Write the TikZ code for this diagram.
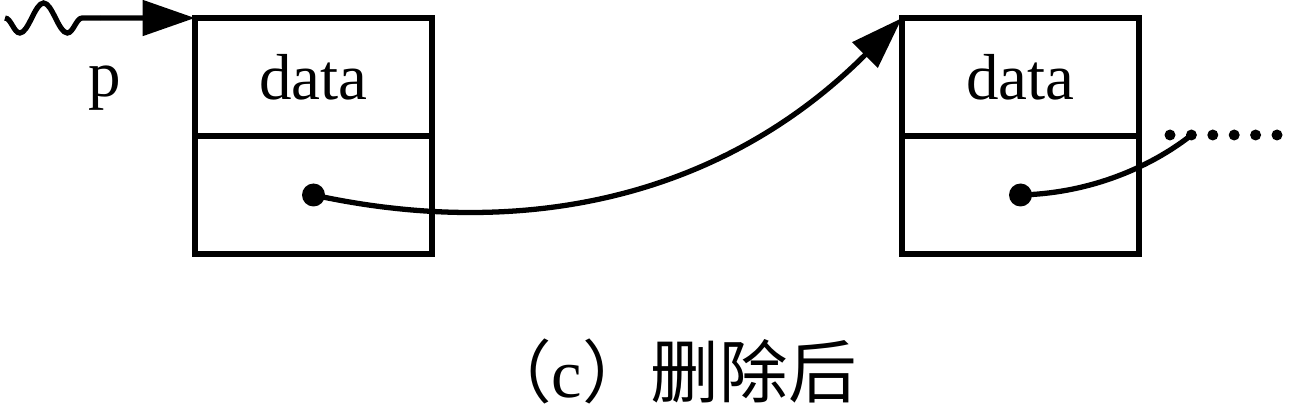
\documentclass[tikz,border=0pt]{standalone}
\usepackage{fontspec}
\setmainfont{Liberation Serif}
\newfontfamily\cjk{Noto Sans CJK SC}
\usetikzlibrary{positioning}
\usetikzlibrary{arrows.meta}
\usetikzlibrary{decorations.pathmorphing}
\tikzset {
  % one field of a list node
  field/.style = {draw, line width=3.4pt, minimum width=4.74cm, minimum height=2.36cm,
    inner sep=0pt, outer sep=0pt, font=\fontsize{37}{44}\selectfont},
  % pointer dot and trailing dots
  ptr/.style = {circle, fill, inner sep=0pt, minimum size=0.46cm},
  more/.style = {circle, fill, inner sep=0pt, minimum size=0.22cm},
  % links between nodes
  link/.style = {line width=3pt, -{Triangle[length=1.05cm, width=0.7cm]}},
  wave/.style = {line width=3pt, decorate,
    decoration={snake, amplitude=-0.3cm, segment length=0.95cm}},
}

\begin{document}
\begin{tikzpicture}
  \useasboundingbox (0,0) rectangle (25.88,-8.26);

  \node[field] (d1) at (6.27,-1.54) {data};
  \node[field] (n1) [below=0pt of d1] {};
  \node[field] (d2) [right=9.4cm of d1] {data};
  \node[field] (n2) [below=0pt of d2] {};

  \node[ptr] (dot1) at (n1) {};
  \node[ptr] (dot2) at (n2) {};

  % head pointer p
  \coordinate (w0) at (0.1,-0.36);
  \coordinate (w1) at (2.0,-0.36);
  \draw[wave] (w0) -- (w1);
  \draw[link] (w1) -- (d1.north west);
  \node[anchor=base, font=\fontsize{37}{44}\selectfont] (p) at (2.1,-1.94) {p};

  % link after deletion
  \draw[link] (dot1.center) .. controls (10.4,-4.8) and (14.4,-4.0) .. (d2.north west);

  % rest of the list
  \foreach \i in {1,...,6}
    \node[more] (e\i) at ({23.4+0.428*(\i-1)},-2.7) {};
  \draw[line width=3pt] (dot2.center) .. controls (22.0,-3.86) and (23.2,-3.2) .. (e2.center);

  \node[font=\fontsize{39}{46}\selectfont] (cap) at (13.4,-7.42) {{\cjk （}c{\cjk ）删除后}};
\end{tikzpicture}
\end{document}
